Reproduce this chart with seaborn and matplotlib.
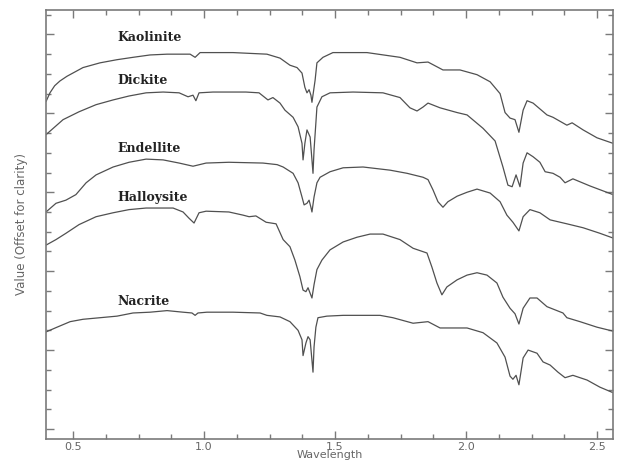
import numpy as np
import pandas as pd
import matplotlib
matplotlib.use("Agg")
import matplotlib.pyplot as plt
from matplotlib.ticker import MultipleLocator
import seaborn as sns

sns.set_theme(style="ticks")

# spectra (wavelength, offset value)
kaolinite_wl = [0.397, 0.412, 0.430, 0.450, 0.477, 0.538, 0.603, 0.668, 0.729, 0.794, 0.859, 0.947, 0.966,
                0.985, 1.111, 1.240, 1.290, 1.328, 1.355, 1.374, 1.385, 1.393, 1.401, 1.408, 1.412,
                1.424, 1.431, 1.454, 1.492, 1.622, 1.748, 1.813, 1.855, 1.912, 1.977, 2.042, 2.092,
                2.130, 2.149, 2.168, 2.187, 2.202, 2.218, 2.233, 2.256, 2.309, 2.332, 2.385, 2.405,
                2.447, 2.500, 2.561]
kaolinite_val = [4.15, 4.26, 4.35, 4.41, 4.47, 4.58, 4.64, 4.68, 4.71, 4.74, 4.75, 4.75, 4.71,
                 4.77, 4.77, 4.75, 4.70, 4.61, 4.58, 4.51, 4.33, 4.26, 4.30, 4.23, 4.14,
                 4.42, 4.64, 4.71, 4.77, 4.77, 4.71, 4.64, 4.65, 4.55, 4.55, 4.49, 4.40,
                 4.25, 4.01, 3.94, 3.92, 3.76, 4.04, 4.16, 4.13, 3.98, 3.95, 3.85, 3.88,
                 3.79, 3.69, 3.62]

dickite_wl = [0.397, 0.462, 0.523, 0.588, 0.653, 0.714, 0.779, 0.844, 0.905, 0.939, 0.958, 0.969,
              0.981, 1.034, 1.160, 1.210, 1.244, 1.263, 1.290, 1.309, 1.340, 1.359, 1.374, 1.378,
              1.385, 1.393, 1.405, 1.412, 1.416, 1.420, 1.427, 1.431, 1.450, 1.481, 1.569, 1.683,
              1.748, 1.786, 1.813, 1.836, 1.855, 1.901, 1.966, 2.004, 2.065, 2.111, 2.141, 2.160,
              2.176, 2.191, 2.206, 2.218, 2.233, 2.256, 2.282, 2.302, 2.332, 2.359, 2.378, 2.408,
              2.473, 2.561]
dickite_val = [3.73, 3.92, 4.02, 4.11, 4.17, 4.22, 4.26, 4.27, 4.26, 4.21, 4.23, 4.16,
               4.26, 4.27, 4.27, 4.26, 4.17, 4.20, 4.13, 4.04, 3.95, 3.83, 3.62, 3.41,
               3.62, 3.79, 3.70, 3.41, 3.24, 3.54, 3.88, 4.08, 4.21, 4.26, 4.27, 4.26,
               4.20, 4.07, 4.03, 4.08, 4.13, 4.07, 4.01, 3.98, 3.81, 3.65, 3.32, 3.09,
               3.07, 3.22, 3.07, 3.37, 3.50, 3.45, 3.38, 3.26, 3.24, 3.19, 3.12, 3.17,
               3.08, 2.97]

endellite_wl = [0.397, 0.435, 0.473, 0.511, 0.550, 0.588, 0.653, 0.714, 0.779, 0.844, 0.905, 0.958,
                1.008, 1.095, 1.225, 1.279, 1.302, 1.340, 1.359, 1.374, 1.382, 1.393, 1.401, 1.408,
                1.412, 1.420, 1.431, 1.443, 1.481, 1.531, 1.607, 1.710, 1.775, 1.836, 1.855, 1.874,
                1.893, 1.912, 1.931, 1.966, 2.004, 2.042, 2.092, 2.130, 2.156, 2.179, 2.202, 2.218,
                2.244, 2.282, 2.321, 2.385, 2.447, 2.511, 2.561]
endellite_val = [2.75, 2.86, 2.90, 2.97, 3.12, 3.22, 3.32, 3.38, 3.42, 3.41, 3.37, 3.33,
                 3.37, 3.38, 3.37, 3.35, 3.32, 3.24, 3.12, 2.94, 2.84, 2.86, 2.90, 2.81,
                 2.75, 2.94, 3.12, 3.19, 3.26, 3.31, 3.32, 3.28, 3.24, 3.19, 3.16, 3.03,
                 2.88, 2.81, 2.88, 2.95, 3.00, 3.04, 2.99, 2.88, 2.71, 2.62, 2.51, 2.69,
                 2.78, 2.74, 2.65, 2.60, 2.55, 2.48, 2.42]

halloysite_wl = [0.397, 0.435, 0.473, 0.523, 0.588, 0.653, 0.714, 0.779, 0.844, 0.882, 0.920, 0.943,
                 0.962, 0.981, 1.008, 1.095, 1.149, 1.172, 1.198, 1.237, 1.275, 1.302, 1.328, 1.347,
                 1.366, 1.378, 1.389, 1.397, 1.405, 1.412, 1.420, 1.431, 1.450, 1.481, 1.531, 1.584,
                 1.634, 1.683, 1.748, 1.798, 1.851, 1.870, 1.889, 1.908, 1.927, 1.966, 2.004, 2.042,
                 2.080, 2.118, 2.141, 2.168, 2.187, 2.202, 2.218, 2.244, 2.271, 2.309, 2.370, 2.385,
                 2.435, 2.500, 2.561]
halloysite_val = [2.33, 2.40, 2.48, 2.59, 2.69, 2.74, 2.78, 2.80, 2.80, 2.80, 2.75, 2.67,
                  2.61, 2.74, 2.76, 2.75, 2.71, 2.69, 2.70, 2.62, 2.60, 2.40, 2.31, 2.14,
                  1.93, 1.76, 1.74, 1.79, 1.72, 1.66, 1.83, 2.02, 2.14, 2.27, 2.37, 2.43,
                  2.47, 2.47, 2.40, 2.29, 2.23, 2.05, 1.85, 1.70, 1.80, 1.89, 1.95, 1.98,
                  1.95, 1.85, 1.67, 1.53, 1.46, 1.33, 1.53, 1.66, 1.66, 1.55, 1.47, 1.41,
                  1.36, 1.29, 1.24]

nacrite_wl = [0.397, 0.439, 0.489, 0.538, 0.603, 0.668, 0.729, 0.794, 0.859, 0.920, 0.954, 0.966,
              0.977, 1.011, 1.111, 1.214, 1.240, 1.290, 1.328, 1.359, 1.374, 1.378, 1.389, 1.397,
              1.405, 1.412, 1.416, 1.420, 1.427, 1.435, 1.469, 1.531, 1.672, 1.721, 1.798, 1.855,
              1.901, 2.004, 2.065, 2.118, 2.149, 2.168, 2.179, 2.191, 2.202, 2.218, 2.237, 2.271,
              2.294, 2.321, 2.351, 2.378, 2.408, 2.462, 2.511, 2.561]
nacrite_val = [1.23, 1.29, 1.36, 1.39, 1.41, 1.43, 1.47, 1.48, 1.50, 1.48, 1.47, 1.44,
               1.47, 1.48, 1.48, 1.47, 1.44, 1.42, 1.36, 1.25, 1.13, 0.93, 1.09, 1.17,
               1.13, 0.87, 0.72, 1.04, 1.29, 1.41, 1.43, 1.44, 1.44, 1.41, 1.34, 1.36,
               1.28, 1.28, 1.22, 1.09, 0.91, 0.67, 0.63, 0.68, 0.56, 0.90, 1.00, 0.96,
               0.85, 0.81, 0.72, 0.65, 0.68, 0.62, 0.53, 0.46]

minerals = ["Kaolinite", "Dickite", "Endellite", "Halloysite", "Nacrite"]
label_x = [0.668, 0.668, 0.668, 0.668, 0.668]
label_y = [4.96, 4.42, 3.55, 2.93, 1.61]

spectra = {
    "Kaolinite": (kaolinite_wl, kaolinite_val),
    "Dickite": (dickite_wl, dickite_val),
    "Endellite": (endellite_wl, endellite_val),
    "Halloysite": (halloysite_wl, halloysite_val),
    "Nacrite": (nacrite_wl, nacrite_val),
}

line_col = "#505050"
axis_col = "#7a7a7a"

fig = plt.figure(figsize=(6.17, 4.62), dpi=100)
ax = fig.add_axes([0.0746, 0.0498, 0.9189, 0.9286])

for name in minerals:
    wl, val = spectra[name]
    sns.lineplot(x=wl, y=val, ax=ax, color=line_col, lw=0.9, estimator=None, sort=False)

for name, lx, ly in zip(minerals, label_x, label_y):
    ax.text(lx, ly, name, family="DejaVu Serif", fontweight="bold", fontsize=9,
            color="#222222", va="center", ha="left")

ax.set_xlim(0.397, 2.561)
ax.set_ylim(-0.127, 5.31)
ax.xaxis.set_major_locator(MultipleLocator(0.5))
ax.xaxis.set_minor_locator(MultipleLocator(0.125))
ax.yaxis.set_major_locator(MultipleLocator(1.0))
ax.yaxis.set_minor_locator(MultipleLocator(0.25))
ax.set_yticklabels([])

ax.tick_params(which="both", direction="in", top=True, right=True, color=axis_col,
               labelcolor="#666666", labelsize=8, pad=2)
ax.tick_params(which="major", length=6, width=1)
ax.tick_params(which="minor", length=3.5, width=1)
for sp in ax.spines.values():
    sp.set_color(axis_col)
    sp.set_linewidth(1.2)

ax.set_xlabel("Wavelength", fontsize=8, color="#666666", labelpad=-1)
ax.set_ylabel("Value (Offset for clarity)", fontsize=8.5, color="#666666", labelpad=11)

fig.savefig("out.png", dpi=100)
